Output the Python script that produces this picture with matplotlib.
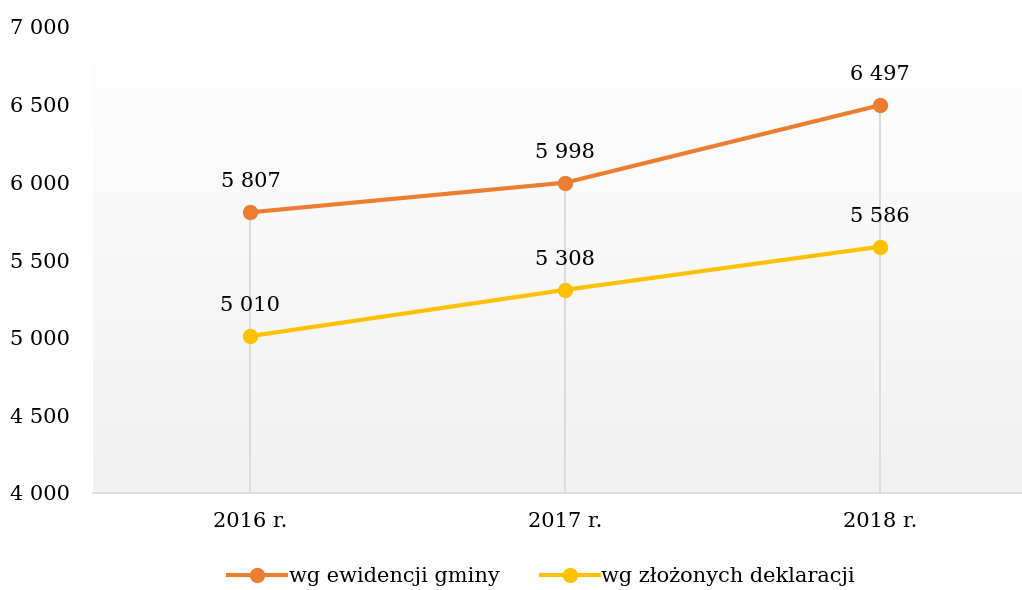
import numpy as np
import matplotlib
matplotlib.use('Agg')
import matplotlib.pyplot as plt

plt.rcParams['font.family'] = ['DejaVu Serif']

years = ['2016 r.', '2017 r.', '2018 r.']
ewidencja = [5807, 5998, 6497]
deklaracje = [5010, 5308, 5586]
yticks = [4000, 4500, 5000, 5500, 6000, 6500, 7000]

c1 = '#ED7D31'
c2 = '#FFC000'
fs = 15

fig = plt.figure(figsize=(10.22, 5.9), dpi=100)
ax = fig.add_axes([93 / 1022, 1 - 493 / 590, 929 / 1022, 466 / 590])

x = np.arange(len(years))
ax.set_xlim(-0.5, 2.45)
ax.set_ylim(4000, 7000)

# tło z gradientem (biały u góry, szary na dole)
grad = np.linspace(0, 1, 256).reshape(-1, 1)
cm = matplotlib.colors.LinearSegmentedColormap.from_list('g', ['#f1f1f1', '#ffffff'])
ax.imshow(grad, extent=(-0.5, 2.45, 4000, 7000), aspect='auto', origin='lower',
          cmap=cm, zorder=0)

# linie pionowe
for xi, top in zip(x, ewidencja):
    ax.plot([xi, xi], [4000, top], color='#d9d9d9', lw=1.3, zorder=1)

ax.plot(x, ewidencja, 'o-', color=c1, lw=3, ms=10, label='wg ewidencji gminy', zorder=3)
ax.plot(x, deklaracje, 'o-', color=c2, lw=3, ms=10, label='wg złożonych deklaracji', zorder=3)

fmt = lambda v: f'{v:,}'.replace(',', ' ')
for series in (ewidencja, deklaracje):
    for xi, v in zip(x, series):
        ax.annotate(fmt(v), (xi, v), xytext=(0, 22), textcoords='offset points',
                    ha='center', va='center', fontsize=fs)

ax.set_xticks(x)
ax.set_xticklabels(years, fontsize=fs)
ax.set_yticks(yticks)
ax.set_yticklabels([fmt(v) for v in yticks], fontsize=fs, ha='left')
ax.tick_params(axis='y', length=0, pad=60)
ax.tick_params(axis='x', length=0, pad=14)

for s in ['top', 'right', 'left']:
    ax.spines[s].set_visible(False)
ax.spines['bottom'].set_color('#d9d9d9')
ax.spines['bottom'].set_linewidth(1.3)

fig.legend(loc='center', bbox_to_anchor=(0.53, 1 - 577 / 590), ncol=2,
           frameon=False, fontsize=fs, handlelength=2.8, columnspacing=2.0,
           handletextpad=0.1)

fig.savefig('out.png', dpi=100)
